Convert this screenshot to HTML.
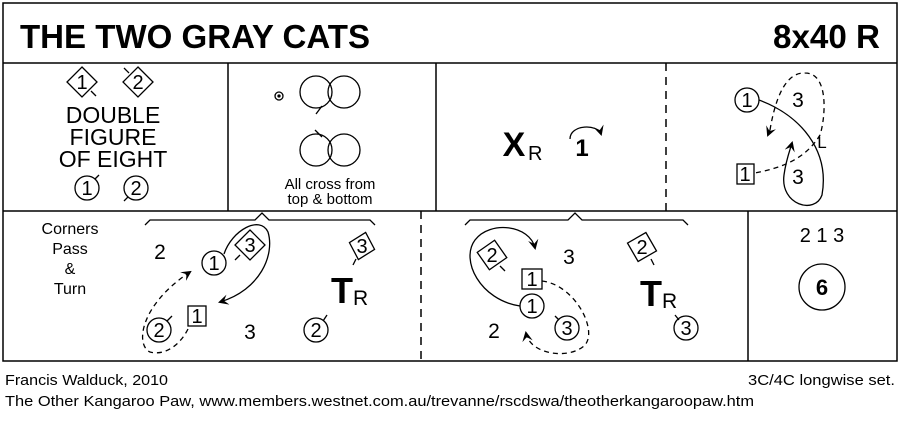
<!DOCTYPE html>
<html><head><meta charset="utf-8"><style>
html,body{margin:0;padding:0;background:#fff;}
svg{display:block;font-family:"Liberation Sans",Arial,sans-serif;}
</style></head><body>
<svg width="900" height="423" viewBox="0 0 900 423" xmlns="http://www.w3.org/2000/svg">
<defs>
<marker id="ah" viewBox="0 0 10 10" refX="8" refY="5" markerWidth="8" markerHeight="8" orient="auto-start-reverse">
<path d="M0,0 L10,5 L0,10 L4,5 z" fill="#000"/></marker>
</defs>
<g fill="none" stroke="#000" stroke-width="1.5">
<rect x="3" y="3" width="894" height="358"/>
<line x1="3" y1="63" x2="897" y2="63"/>
<line x1="3" y1="211" x2="897" y2="211"/>
<line x1="228" y1="63" x2="228" y2="211"/>
<line x1="436" y1="63" x2="436" y2="211"/>
<line x1="666" y1="63" x2="666" y2="211" stroke-dasharray="8,6"/>
<line x1="421" y1="211" x2="421" y2="361" stroke-dasharray="8,6"/>
<line x1="748" y1="211" x2="748" y2="361"/>
</g>
<text x="20" y="48" font-size="33" font-weight="bold" textLength="350" lengthAdjust="spacingAndGlyphs">THE TWO GRAY CATS</text>
<text x="773" y="48" font-size="33" font-weight="bold" textLength="107" lengthAdjust="spacingAndGlyphs">8x40 R</text>

<g fill="none" stroke="#000" stroke-width="1.3">
<!-- panel1 -->
<path d="M82,67 L97,82 L82,97 L67,82 Z"/><line x1="91" y1="91" x2="96" y2="96"/>
<path d="M138,67 L153,82 L138,97 L123,82 Z"/><line x1="129" y1="73" x2="124" y2="68"/>
<circle cx="87" cy="188" r="12"/><line x1="95" y1="179" x2="99" y2="175"/>
<circle cx="136" cy="188" r="12"/><line x1="128" y1="197" x2="124" y2="201"/>
<!-- panel2 -->
<circle cx="279" cy="96" r="4"/><circle cx="279" cy="96" r="1" fill="#000"/>
<circle cx="316" cy="92" r="16"/><circle cx="344" cy="92" r="16"/>
<line x1="322" y1="106" x2="316" y2="114"/>
<circle cx="316" cy="150" r="16"/><circle cx="344" cy="150" r="16"/>
<line x1="322" y1="137" x2="315" y2="130"/>
<!-- panel3 arc -->
<path d="M570,139 C570,124 598,124 601,134" marker-end="url(#ah)"/>
<!-- panel4 -->
<circle cx="747" cy="100" r="12"/>
<rect x="737" y="164" width="17" height="20"/>
<path d="M759,100 C800,115 830,150 822,195 C815,215 780,205 784,175 C786,160 790,150 792,143" marker-end="url(#ah)"/>
<path d="M770,130 C775,100 785,72 805,73 C830,73 825,120 820,135 C805,160 780,168 755,173" stroke-dasharray="5,4"/>
<path d="M770,130 L768,135" marker-end="url(#ah)"/>
<!-- braces -->
<path d="M145,225 L150,220 L255,220 L262,213 L269,220 L370,220 L375,225"/>
<path d="M465,225 L470,220 L568,220 L575,213 L582,220 L683,220 L688,225"/>
<!-- row2 left -->
<circle cx="214" cy="263" r="12"/>
<path d="M250,230 L265,245 L250,260 L235,245 Z"/><line x1="240" y1="255" x2="235" y2="260"/>
<rect x="188" y="306" width="18" height="20"/>
<circle cx="159" cy="330" r="12"/><line x1="167" y1="321" x2="172" y2="316"/>
<path d="M362,232 L375,246 L362,260 L349,246 Z" transform="rotate(15 362 246)"/><line x1="356" y1="259" x2="353" y2="265"/>
<circle cx="316" cy="330" r="12"/><line x1="323" y1="321" x2="327" y2="315"/>
<path d="M224,254 C232,230 260,215 268,232 C275,255 260,290 220,302" marker-end="url(#ah)"/>
<path d="M188,329 C180,345 165,356 150,352 C135,345 140,305 190,272" stroke-dasharray="5,4" marker-end="url(#ah)"/>
<!-- row2 right -->
<path d="M492,240 L507,255 L492,270 L477,255 Z" transform="rotate(10 492 255)"/><line x1="500" y1="266" x2="505" y2="271"/>
<rect x="522" y="269" width="20" height="20"/>
<circle cx="532" cy="306" r="12"/>
<circle cx="567" cy="328" r="12"/><line x1="559" y1="320" x2="555" y2="316"/>
<path d="M642,232 L657,247 L642,262 L627,247 Z" transform="rotate(15 642 247)"/><line x1="651" y1="259" x2="654" y2="265"/>
<circle cx="686" cy="328" r="12"/><line x1="679" y1="320" x2="675" y2="315"/>
<path d="M520,306 C480,300 460,260 475,240 C490,220 530,225 535,248" marker-end="url(#ah)"/>
<path d="M542,281 C575,285 598,330 585,345 C570,360 530,355 526,333" stroke-dasharray="5,4" marker-end="url(#ah)"/>
<circle cx="822" cy="287" r="23"/>
</g>

<g font-size="20" text-anchor="middle">
<text x="82" y="89" font-size="20">1</text>
<text x="138" y="89" font-size="20">2</text>
<text x="113" y="123" font-size="23">DOUBLE</text>
<text x="113" y="145" font-size="23">FIGURE</text>
<text x="113" y="167" font-size="23">OF EIGHT</text>
<text x="87" y="195" font-size="20">1</text>
<text x="136" y="195" font-size="20">2</text>
<text x="330" y="189" font-size="15">All cross from</text>
<text x="330" y="204" font-size="15">top &amp; bottom</text>
<text x="514" y="156" font-size="34" font-weight="bold">X</text>
<text x="528" y="160" font-size="20" text-anchor="start">R</text>
<text x="582" y="156" font-size="24" font-weight="bold">1</text>
<text x="747" y="107" font-size="20">1</text>
<text x="745" y="181" font-size="20">1</text>
<text x="798" y="107" font-size="21">3</text>
<text x="798" y="184" font-size="21">3</text>
<text x="822" y="148" font-size="17">L</text>
<text x="70" y="234" font-size="16">Corners</text>
<text x="70" y="254" font-size="16">Pass</text>
<text x="70" y="274" font-size="16">&amp;</text>
<text x="70" y="294" font-size="16">Turn</text>
<text x="160" y="259" font-size="21">2</text>
<text x="214" y="270" font-size="20">1</text>
<text x="250" y="252" font-size="20">3</text>
<text x="197" y="323" font-size="20">1</text>
<text x="159" y="337" font-size="20">2</text>
<text x="250" y="339" font-size="21">3</text>
<text x="362" y="253" font-size="20">3</text>
<text x="342" y="303" font-size="36" font-weight="bold">T</text>
<text x="353" y="305" font-size="21" text-anchor="start">R</text>
<text x="316" y="337" font-size="20">2</text>
<text x="492" y="262" font-size="20">2</text>
<text x="569" y="264" font-size="21">3</text>
<text x="532" y="286" font-size="20">1</text>
<text x="532" y="313" font-size="20">1</text>
<text x="494" y="338" font-size="21">2</text>
<text x="567" y="335" font-size="20">3</text>
<text x="642" y="254" font-size="20">2</text>
<text x="651" y="306" font-size="36" font-weight="bold">T</text>
<text x="662" y="308" font-size="21" text-anchor="start">R</text>
<text x="686" y="335" font-size="20">3</text>
<text x="822" y="242" font-size="20">2 1 3</text>
<text x="822" y="295" font-size="22" font-weight="bold">6</text>
</g>
<text x="5" y="385" font-size="15" textLength="163" lengthAdjust="spacingAndGlyphs">Francis Walduck, 2010</text>
<text x="748" y="385" font-size="15" textLength="147" lengthAdjust="spacingAndGlyphs">3C/4C longwise set.</text>
<text x="5" y="406" font-size="15" textLength="749" lengthAdjust="spacingAndGlyphs">The Other Kangaroo Paw, www.members.westnet.com.au/trevanne/rscdswa/theotherkangaroopaw.htm</text>
</svg>
</body></html>
